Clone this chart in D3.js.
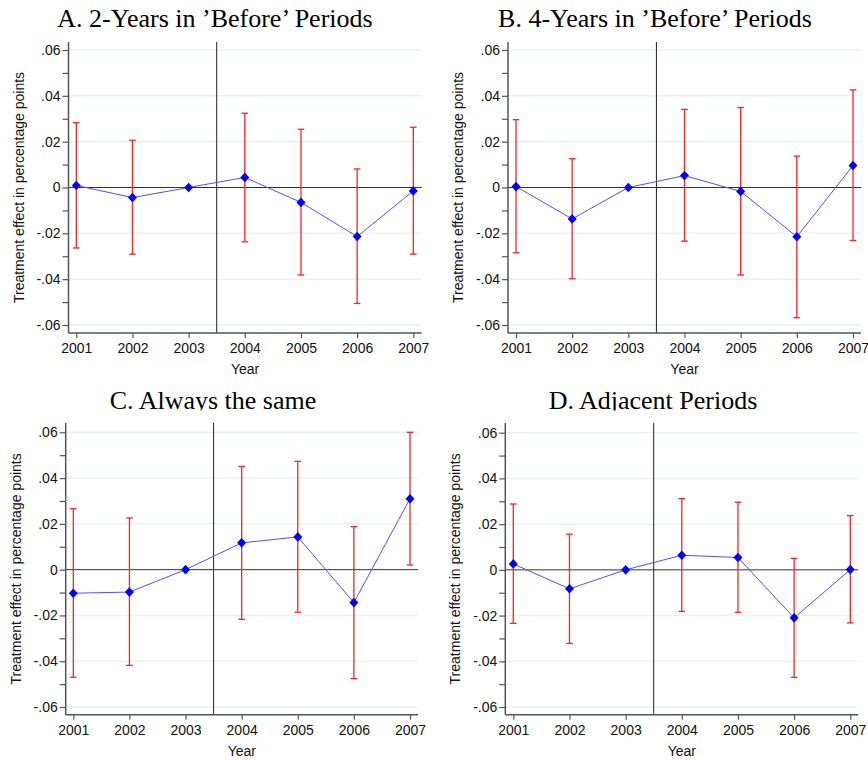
<!DOCTYPE html>
<html>
<head>
<meta charset="utf-8">
<script src="https://cdn.jsdelivr.net/npm/d3@7"></script>
<style>
  html, body { margin: 0; padding: 0; background: #ffffff; }
  svg { display: block; }
</style>
</head>
<body>
<svg id="chart" width="868" height="760"></svg>
<script>
// ---------- data ----------
const years = [2001, 2002, 2003, 2004, 2005, 2006, 2007];
const yTicks = [-0.06, -0.04, -0.02, 0, 0.02, 0.04, 0.06];
const yMinorTicks = [-0.05, -0.03, -0.01, 0.01, 0.03, 0.05];
const yTickLabels = ["-.06", "-.04", "-.02", "0", ".02", ".04", ".06"];
const titles = ["A. 2-Years in \u2019Before\u2019 Periods", "B. 4-Years in \u2019Before\u2019 Periods",
                "C. Always the same", "D. Adjacent Periods"];
const xTitle = "Year";
const yTitle = "Treatment effect in percentage points";
const treatmentStart = 2003.5;

// Panel A
const estA  = [0.0009, -0.0044, 0, 0.0044, -0.0065, -0.0214, -0.0015];
const lowA  = [-0.0264, -0.0291, null, -0.0237, -0.0382, -0.0506, -0.0291];
const highA = [0.0283, 0.0206, null, 0.0324, 0.0254, 0.0081, 0.0263];
// Panel B
const estB  = [0.0004, -0.0137, 0, 0.0052, -0.0017, -0.0215, 0.0096];
const lowB  = [-0.0285, -0.0398, null, -0.0234, -0.0382, -0.0568, -0.0231];
const highB = [0.0296, 0.0126, null, 0.0341, 0.0349, 0.0137, 0.0426];
// Panel C
const estC  = [-0.0103, -0.0098, 0, 0.0117, 0.0143, -0.0144, 0.0310];
const lowC  = [-0.0470, -0.0418, null, -0.0217, -0.0186, -0.0476, 0.0020];
const highC = [0.0266, 0.0226, null, 0.0451, 0.0473, 0.0188, 0.0600];
// Panel D
const estD  = [0.0026, -0.0083, 0, 0.0064, 0.0054, -0.0210, 0.0001];
const lowD  = [-0.0234, -0.0322, null, -0.0182, -0.0186, -0.0470, -0.0232];
const highD = [0.0288, 0.0156, null, 0.0312, 0.0296, 0.0050, 0.0237];

const series = [[estA, lowA, highA], [estB, lowB, highB], [estC, lowC, highC], [estD, lowD, highD]];

// ---------- layout ----------
const layouts = [
  {left: 68.5, right: 421.7, top: 42,  bottom: 333,   y06: 50,    yn06: 325, x1: 76.3,  x7: 413.3, titleX: 215, titleY: 27,    clipY: null},
  {left: 508,  right: 861,   top: 42,  bottom: 333,   y06: 50,    yn06: 325, x1: 516,   x7: 853,   titleX: 655, titleY: 27,    clipY: null},
  {left: 65.7, right: 418,   top: 423, bottom: 714.7, y06: 432.3, yn06: 707, x1: 73.3,  x7: 410,   titleX: 213, titleY: 408.7, clipY: 410.5},
  {left: 505.3,right: 858.3, top: 423, bottom: 714.7, y06: 432.7, yn06: 707, x1: 513.3, x7: 850.3, titleX: 653, titleY: 408.7, clipY: 410.5}
];

const svg = d3.select("#chart");
const sansFont = "'Liberation Sans', Arial, Helvetica, sans-serif";
const serifFont = "'Liberation Serif', 'Times New Roman', Times, serif";
const axisColor = "#555555";

const defs = svg.append("defs");

layouts.forEach((L, i) => {
  const [est, low, high] = series[i];
  const g = svg.append("g");

  const x = d3.scaleLinear().domain([2001, 2007]).range([L.x1, L.x7]);
  const y = d3.scaleLinear().domain([-0.06, 0.06]).range([L.yn06, L.y06]);

  // title
  let titleG = g.append("g");
  if (L.clipY !== null) {
    const id = "clipT" + i;
    defs.append("clipPath").attr("id", id).append("rect")
      .attr("x", L.titleX - 250).attr("y", L.clipY - 60).attr("width", 500).attr("height", 60);
    titleG.attr("clip-path", `url(#${id})`);
  }
  titleG.append("text")
    .attr("x", L.titleX).attr("y", L.titleY)
    .attr("text-anchor", "middle")
    .attr("font-family", serifFont).attr("font-size", 26)
    .attr("fill", "#000").text(titles[i]);

  // gridlines
  g.append("g").selectAll("line").data(yTicks.filter(t => t !== 0)).join("line")
    .attr("x1", L.left).attr("x2", L.right)
    .attr("y1", d => y(d)).attr("y2", d => y(d))
    .attr("stroke", "#eaf2f3").attr("stroke-width", 1.5);

  // zero line
  g.append("line")
    .attr("x1", L.left).attr("x2", L.right)
    .attr("y1", y(0)).attr("y2", y(0))
    .attr("stroke", "#333333").attr("stroke-width", 1);

  // vertical line at treatment start
  g.append("line")
    .attr("x1", x(treatmentStart)).attr("x2", x(treatmentStart))
    .attr("y1", L.top).attr("y2", L.bottom)
    .attr("stroke", "#222222").attr("stroke-width", 1);

  // y axis
  const yAxis = d3.axisLeft(y).tickValues(yTicks)
    .tickFormat((d, k) => yTickLabels[k]).tickSize(6).tickPadding(2);
  const yAx = g.append("g").attr("transform", `translate(${L.left},0)`).call(yAxis);
  yAx.select(".domain").remove();
  yAx.selectAll(".tick line").attr("stroke", axisColor).attr("stroke-width", 1.2);
  yAx.selectAll(".tick text").attr("font-family", sansFont).attr("font-size", 14).attr("fill", "#111");
  // minor ticks
  const yMinor = d3.axisLeft(y).tickValues(yMinorTicks).tickFormat("").tickSize(6);
  const yMin = g.append("g").attr("transform", `translate(${L.left},0)`).call(yMinor);
  yMin.select(".domain").remove();
  yMin.selectAll(".tick line").attr("stroke", axisColor).attr("stroke-width", 1.2);
  // y axis line
  g.append("line").attr("x1", L.left).attr("x2", L.left).attr("y1", L.top).attr("y2", L.bottom)
    .attr("stroke", axisColor).attr("stroke-width", 1.5);

  // x axis
  const xAxis = d3.axisBottom(x).tickValues(years).tickFormat(d3.format("d")).tickSize(5).tickPadding(5);
  const xAx = g.append("g").attr("transform", `translate(0,${L.bottom})`).call(xAxis);
  xAx.select(".domain").remove();
  xAx.selectAll(".tick line").attr("stroke", axisColor).attr("stroke-width", 1.2);
  xAx.selectAll(".tick text").attr("font-family", sansFont).attr("font-size", 14).attr("fill", "#111");
  g.append("line").attr("x1", L.left).attr("x2", L.right).attr("y1", L.bottom).attr("y2", L.bottom)
    .attr("stroke", axisColor).attr("stroke-width", 1.5);

  // axis titles
  g.append("text")
    .attr("x", (L.left + L.right) / 2).attr("y", L.bottom + 41)
    .attr("text-anchor", "middle").attr("font-family", sansFont).attr("font-size", 14)
    .attr("fill", "#111").text(xTitle);
  g.append("text")
    .attr("transform", `translate(${L.left - 45},${(L.top + L.bottom) / 2}) rotate(-90)`)
    .attr("text-anchor", "middle").attr("font-family", sansFont).attr("font-size", 14)
    .attr("fill", "#111").text(yTitle);

  // error bars
  const ci = years.map((yr, k) => ({yr, lo: low[k], hi: high[k]})).filter(d => d.lo !== null);
  const eb = g.append("g").attr("stroke", "#ff2020").attr("stroke-width", 1.3).attr("fill", "none");
  eb.selectAll("line.v").data(ci).join("line").attr("class", "v")
    .attr("x1", d => x(d.yr)).attr("x2", d => x(d.yr))
    .attr("y1", d => y(d.lo)).attr("y2", d => y(d.hi));
  eb.selectAll("line.t").data(ci).join("line").attr("class", "t")
    .attr("x1", d => x(d.yr) - 3.3).attr("x2", d => x(d.yr) + 3.3)
    .attr("y1", d => y(d.hi)).attr("y2", d => y(d.hi));
  eb.selectAll("line.b").data(ci).join("line").attr("class", "b")
    .attr("x1", d => x(d.yr) - 3.3).attr("x2", d => x(d.yr) + 3.3)
    .attr("y1", d => y(d.lo)).attr("y2", d => y(d.lo));

  // connecting line
  const pts = years.map((yr, k) => ({yr, v: est[k]}));
  g.append("path").datum(pts)
    .attr("d", d3.line().x(d => x(d.yr)).y(d => y(d.v)))
    .attr("fill", "none").attr("stroke", "#5050ff").attr("stroke-width", 1);

  // markers
  g.append("g").selectAll("path").data(pts).join("path")
    .attr("transform", d => `translate(${x(d.yr)},${y(d.v)})`)
    .attr("d", "M0,-4.8L4.5,0L0,4.8L-4.5,0Z")
    .attr("fill", "#0000ff");
});
</script>
</body>
</html>
